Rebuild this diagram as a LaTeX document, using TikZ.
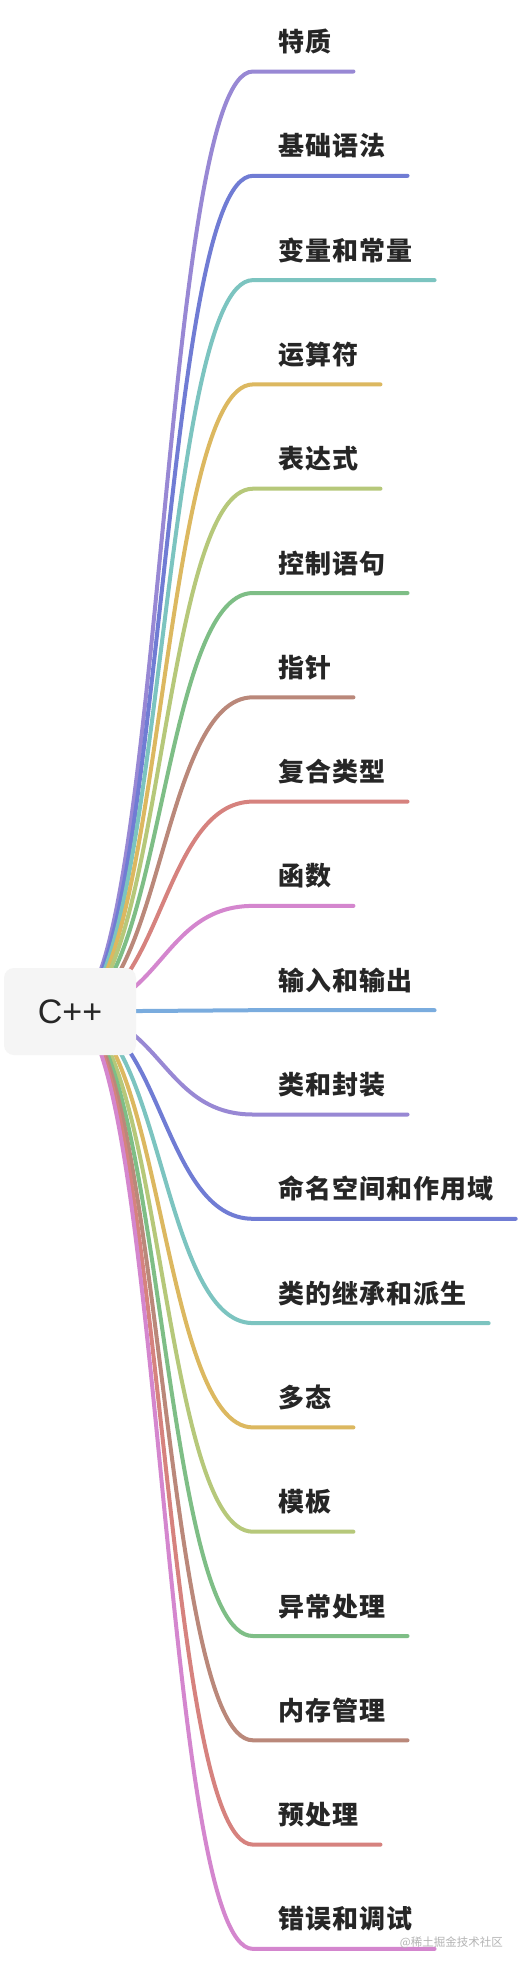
\documentclass[tikz,border=0pt]{standalone}
\usepackage{fontspec}
\newfontfamily\cjkfont{Noto Sans CJK SC}
\newfontfamily\cjklbl{Noto Sans CJK SC}[LetterSpace=4]
\newfontfamily\rootfont{Liberation Sans}
\usetikzlibrary{positioning,backgrounds}

\definecolor{ink}{HTML}{262626}
\definecolor{rootgrey}{HTML}{F5F5F5}
\definecolor{markgrey}{HTML}{B4B4B4}
\definecolor{cPurple}{HTML}{9888D4}
\definecolor{cIndigo}{HTML}{707CD4}
\definecolor{cTeal}{HTML}{7CC4C0}
\definecolor{cGold}{HTML}{DCB860}
\definecolor{cOlive}{HTML}{B6C87A}
\definecolor{cGreen}{HTML}{7EBE86}
\definecolor{cBrown}{HTML}{BA887A}
\definecolor{cSalmon}{HTML}{D6827E}
\definecolor{cPink}{HTML}{D486CE}
\definecolor{cBlue}{HTML}{7AACDE}

\begin{document}
\begin{tikzpicture}[
  x=1pt,y=-1pt,
  node distance=104.3pt,
  lbl/.style={anchor=south west,font=\cjklbl\bfseries\fontsize{26}{26}\selectfont,text=ink,
    inner sep=0pt,text height=23pt,text depth=19.75pt},
  root/.style={fill=rootgrey,rounded corners=10pt,minimum width=132pt,minimum height=87pt,
    inner sep=0pt,font=\rootfont\fontsize{34}{34}\selectfont,text=ink},
  br/.style={draw=#1,line width=4pt,line cap=round},
  wm/.style={anchor=east,font=\cjkfont\fontsize{11.5}{11.5}\selectfont,text=markgrey,inner sep=0pt}
]
\useasboundingbox (0,0) rectangle (520,1966);

% ---------- root ----------
\node[root] (root) at (70,1011.5) {C++};

% ---------- topics ----------
\node[lbl] (b0) at (278,71.5) {特质};
\node[below=of b0.south west,lbl] (b1) {基础语法};
\node[below=of b1.south west,lbl] (b2) {变量和常量};
\node[below=of b2.south west,lbl] (b3) {运算符};
\node[below=of b3.south west,lbl] (b4) {表达式};
\node[below=of b4.south west,lbl] (b5) {控制语句};
\node[below=of b5.south west,lbl] (b6) {指针};
\node[below=of b6.south west,lbl] (b7) {复合类型};
\node[below=of b7.south west,lbl] (b8) {函数};
\node[below=of b8.south west,lbl] (b9) {输入和输出};
\node[below=of b9.south west,lbl] (b10) {类和封装};
\node[below=of b10.south west,lbl] (b11) {命名空间和作用域};
\node[below=of b11.south west,lbl] (b12) {类的继承和派生};
\node[below=of b12.south west,lbl] (b13) {多态};
\node[below=of b13.south west,lbl] (b14) {模板};
\node[below=of b14.south west,lbl] (b15) {异常处理};
\node[below=of b15.south west,lbl] (b16) {内存管理};
\node[below=of b16.south west,lbl] (b17) {预处理};
\node[below=of b17.south west,lbl] (b18) {错误和调试};

\node[wm] (mark) at (503,1943) {@稀土掘金技术社区};

% ---------- branches (behind the root) ----------
\begin{scope}[on background layer]
\fill[white] (0,0) rectangle (520,1966);
\draw[br=cPurple] (root.center) .. controls +(91.5,0) and +(-91.5,0) .. ([xshift=-25pt]b0.south west) -- ([xshift=22pt]b0.south east);
\draw[br=cIndigo] (root.center) .. controls +(91.5,0) and +(-91.5,0) .. ([xshift=-25pt]b1.south west) -- ([xshift=22pt]b1.south east);
\draw[br=cTeal] (root.center) .. controls +(91.5,0) and +(-91.5,0) .. ([xshift=-25pt]b2.south west) -- ([xshift=22pt]b2.south east);
\draw[br=cGold] (root.center) .. controls +(91.5,0) and +(-91.5,0) .. ([xshift=-25pt]b3.south west) -- ([xshift=22pt]b3.south east);
\draw[br=cOlive] (root.center) .. controls +(91.5,0) and +(-91.5,0) .. ([xshift=-25pt]b4.south west) -- ([xshift=22pt]b4.south east);
\draw[br=cGreen] (root.center) .. controls +(91.5,0) and +(-91.5,0) .. ([xshift=-25pt]b5.south west) -- ([xshift=22pt]b5.south east);
\draw[br=cBrown] (root.center) .. controls +(91.5,0) and +(-91.5,0) .. ([xshift=-25pt]b6.south west) -- ([xshift=22pt]b6.south east);
\draw[br=cSalmon] (root.center) .. controls +(91.5,0) and +(-91.5,0) .. ([xshift=-25pt]b7.south west) -- ([xshift=22pt]b7.south east);
\draw[br=cPink] (root.center) .. controls +(91.5,0) and +(-91.5,0) .. ([xshift=-25pt]b8.south west) -- ([xshift=22pt]b8.south east);
\draw[br=cBlue] (root.center) .. controls +(91.5,0) and +(-91.5,0) .. ([xshift=-25pt]b9.south west) -- ([xshift=22pt]b9.south east);
\draw[br=cPurple] (root.center) .. controls +(91.5,0) and +(-91.5,0) .. ([xshift=-25pt]b10.south west) -- ([xshift=22pt]b10.south east);
\draw[br=cIndigo] (root.center) .. controls +(91.5,0) and +(-91.5,0) .. ([xshift=-25pt]b11.south west) -- ([xshift=22pt]b11.south east);
\draw[br=cTeal] (root.center) .. controls +(91.5,0) and +(-91.5,0) .. ([xshift=-25pt]b12.south west) -- ([xshift=22pt]b12.south east);
\draw[br=cGold] (root.center) .. controls +(91.5,0) and +(-91.5,0) .. ([xshift=-25pt]b13.south west) -- ([xshift=22pt]b13.south east);
\draw[br=cOlive] (root.center) .. controls +(91.5,0) and +(-91.5,0) .. ([xshift=-25pt]b14.south west) -- ([xshift=22pt]b14.south east);
\draw[br=cGreen] (root.center) .. controls +(91.5,0) and +(-91.5,0) .. ([xshift=-25pt]b15.south west) -- ([xshift=22pt]b15.south east);
\draw[br=cBrown] (root.center) .. controls +(91.5,0) and +(-91.5,0) .. ([xshift=-25pt]b16.south west) -- ([xshift=22pt]b16.south east);
\draw[br=cSalmon] (root.center) .. controls +(91.5,0) and +(-91.5,0) .. ([xshift=-25pt]b17.south west) -- ([xshift=22pt]b17.south east);
\draw[br=cPink] (root.center) .. controls +(91.5,0) and +(-91.5,0) .. ([xshift=-25pt]b18.south west) -- ([xshift=22pt]b18.south east);
\end{scope}

\end{tikzpicture}
\end{document}
